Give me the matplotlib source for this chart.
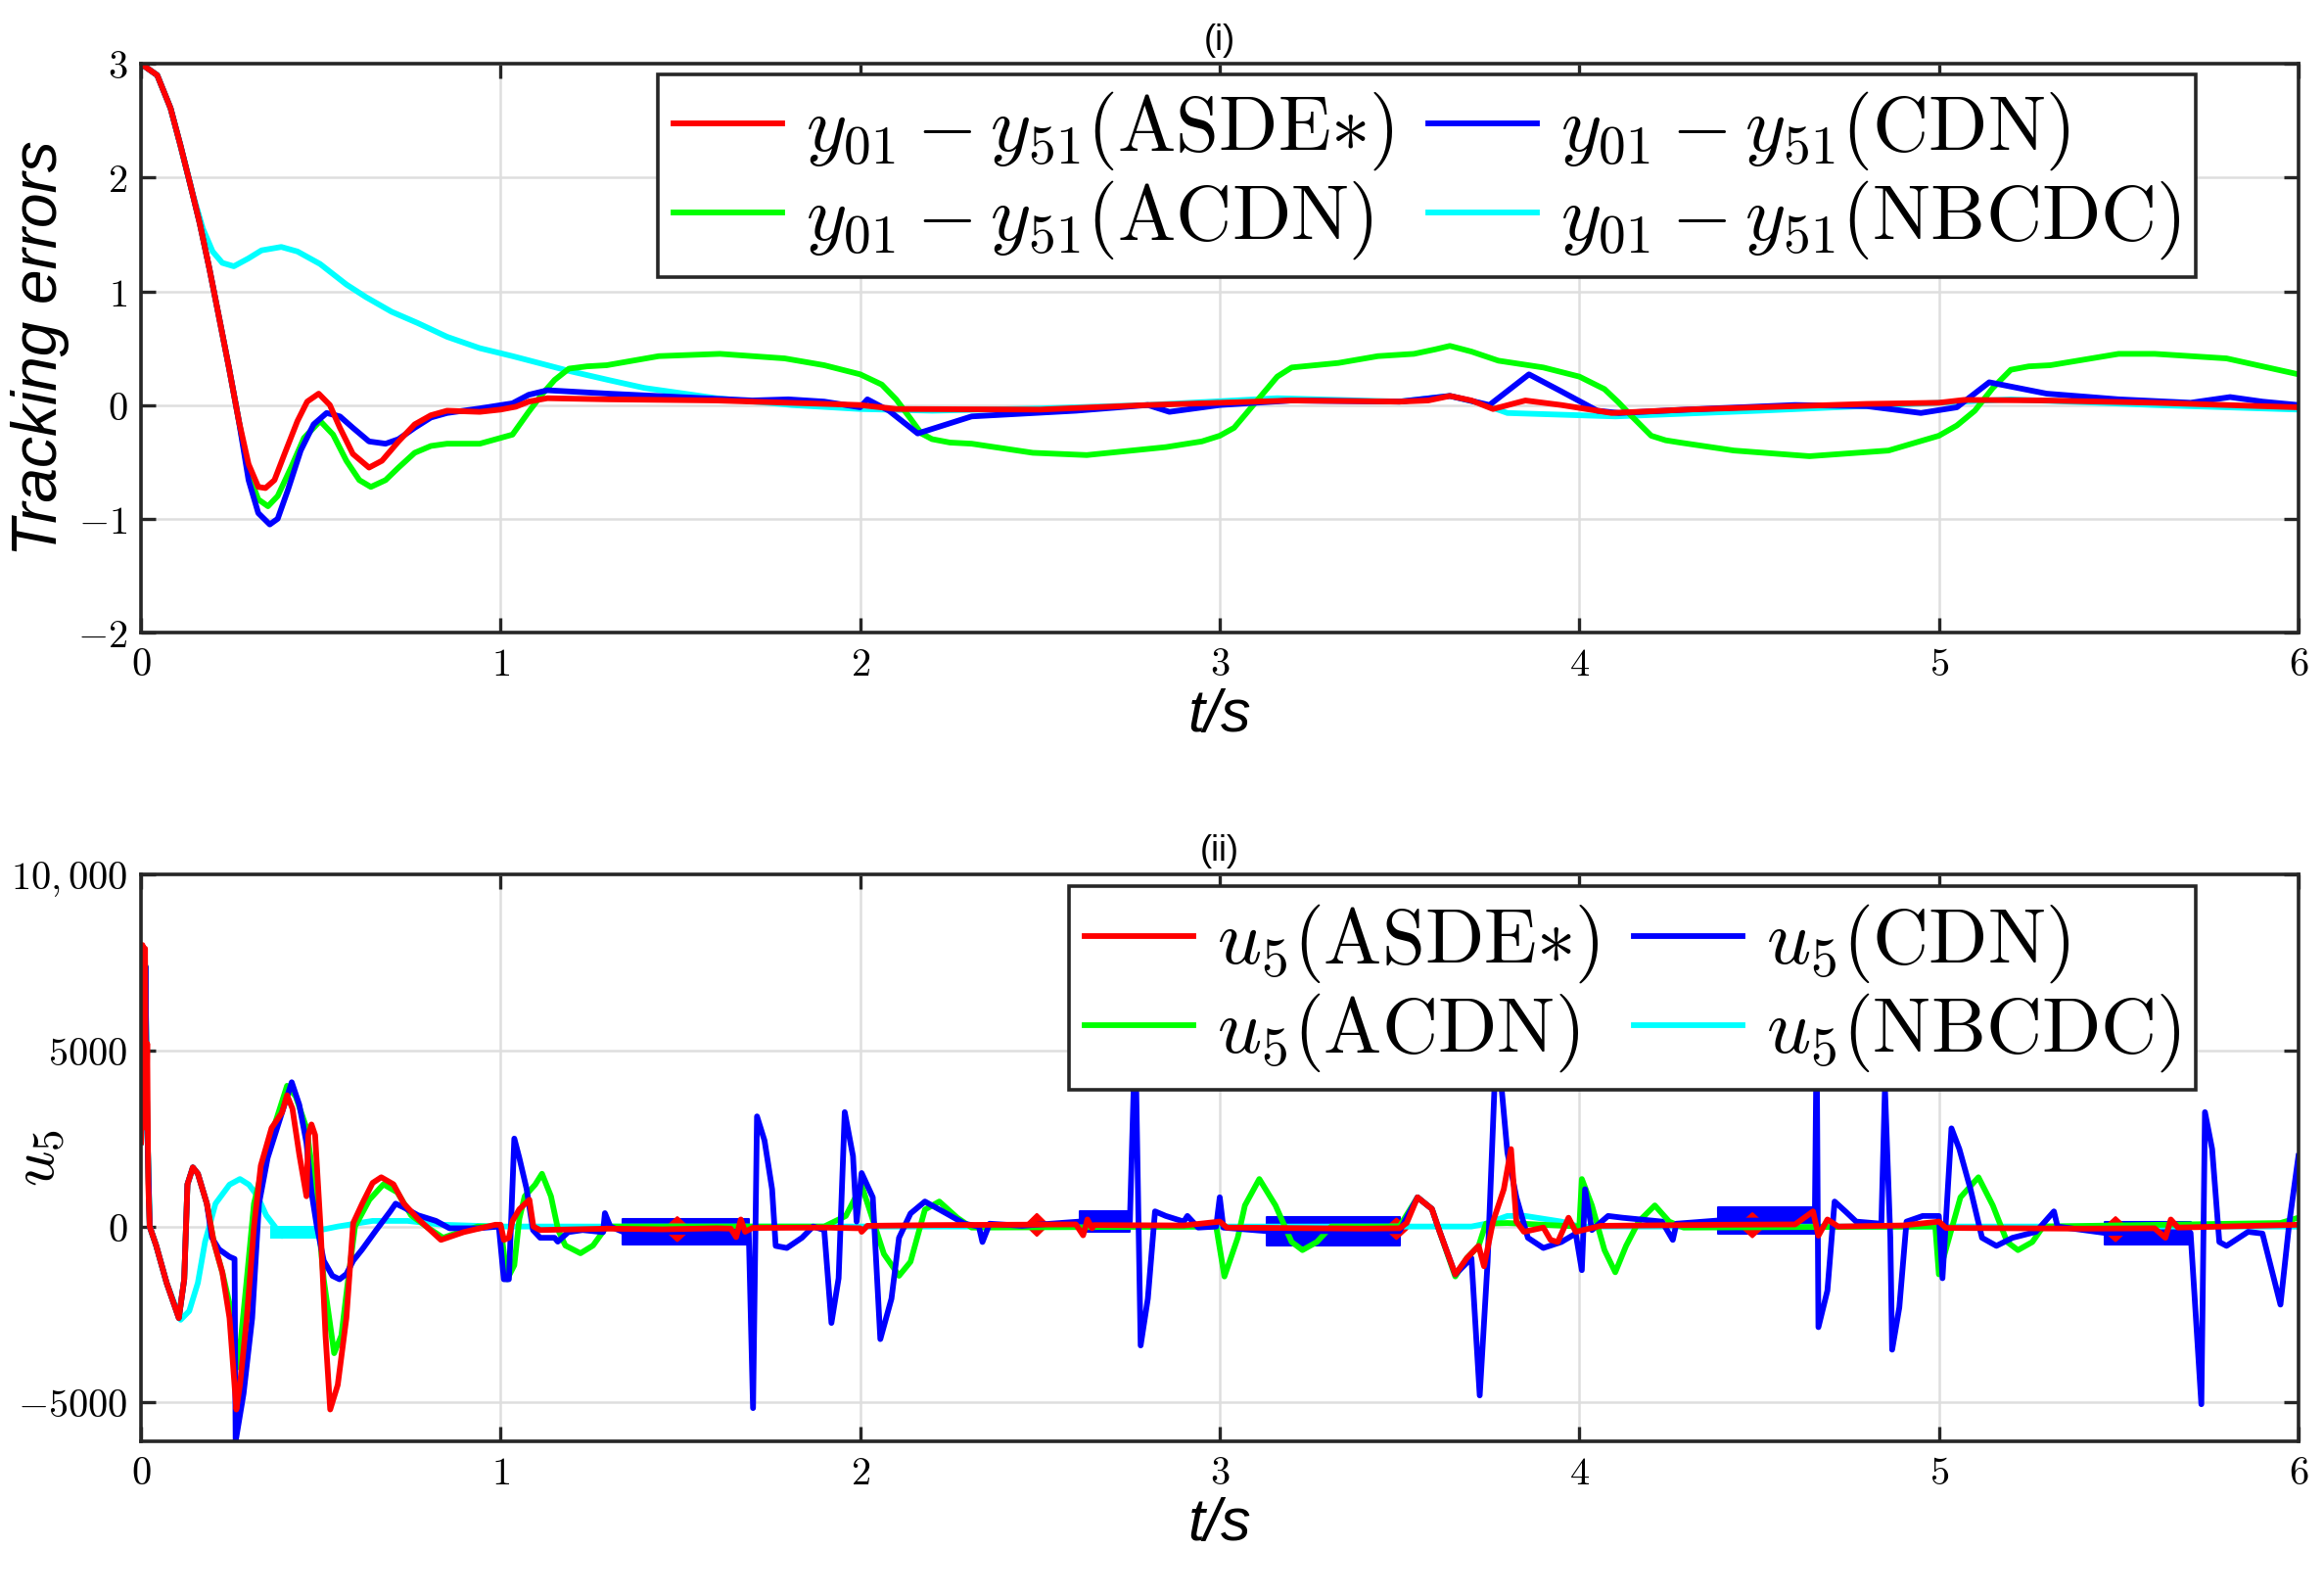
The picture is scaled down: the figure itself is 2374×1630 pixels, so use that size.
import numpy as np
import matplotlib
matplotlib.use('Agg')
import matplotlib.pyplot as plt

plt.rcParams['mathtext.fontset'] = 'cm'
plt.rcParams['font.family'] = ['Liberation Sans', 'DejaVu Sans']

# ---------------- (i) tracking errors ----------------
t_asde = [0, 0.045, 0.082, 0.109, 0.136, 0.163, 0.19, 0.217, 0.245, 0.272, 0.299, 0.326, 0.346, 0.371,
          0.399, 0.435, 0.462, 0.494, 0.525, 0.553, 0.589, 0.634, 0.67, 0.716, 0.761, 0.806, 0.851, 0.942,
          1.0, 1.042, 1.078, 1.13, 1.3, 1.6, 2.0, 2.1, 2.5, 2.8, 3.0, 3.2, 3.5, 3.58, 3.64, 3.7, 3.76,
          3.85, 3.95, 4.09, 4.3, 4.5, 4.8, 5.0, 5.07, 5.3, 5.6, 6.0]
e_asde = [3.0, 2.9, 2.61, 2.29, 1.95, 1.6, 1.2, 0.77, 0.32, -0.14, -0.52, -0.72, -0.73, -0.66,
          -0.43, -0.14, 0.03, 0.1, 0.0, -0.2, -0.43, -0.55, -0.49, -0.32, -0.17, -0.09, -0.05, -0.06,
          -0.04, -0.015, 0.03, 0.06, 0.05, 0.04, 0.0, -0.035, -0.04, 0.0, 0.02, 0.04, 0.03, 0.04, 0.08,
          0.04, -0.035, 0.04, 0.0, -0.07, -0.04, -0.02, 0.01, 0.02, 0.045, 0.04, 0.02, -0.02]

t_cdn = [0, 0.045, 0.082, 0.109, 0.136, 0.163, 0.19, 0.217, 0.245, 0.272, 0.299, 0.326, 0.358, 0.38,
         0.408, 0.444, 0.48, 0.516, 0.553, 0.589, 0.634, 0.68, 0.716, 0.761, 0.806, 0.851, 0.942, 1.033,
         1.078, 1.13, 1.3, 1.5, 1.7, 1.8, 1.9, 2.0, 2.02, 2.08, 2.16, 2.23, 2.31, 2.6, 2.8, 2.86, 2.93,
         3.0, 3.2, 3.5, 3.64, 3.75, 3.86, 3.95, 4.05, 4.11, 4.3, 4.6, 4.8, 4.95, 5.05, 5.14, 5.3, 5.5,
         5.7, 5.81, 5.9, 6.0]
e_cdn = [3.0, 2.9, 2.61, 2.29, 1.95, 1.6, 1.2, 0.77, 0.32, -0.14, -0.66, -0.95, -1.05, -1.0,
         -0.75, -0.4, -0.17, -0.07, -0.1, -0.2, -0.32, -0.34, -0.3, -0.2, -0.11, -0.07, -0.03, 0.015,
         0.09, 0.13, 0.1, 0.07, 0.04, 0.05, 0.03, -0.02, 0.05, -0.05, -0.25, -0.18, -0.1, -0.05, 0.0,
         -0.06, -0.03, 0.0, 0.04, 0.03, 0.08, 0.0, 0.27, 0.12, -0.05, -0.07, -0.04, 0.0, -0.01, -0.07,
         -0.02, 0.2, 0.1, 0.05, 0.02, 0.07, 0.03, 0.0]

t_acdn = [0, 0.045, 0.082, 0.109, 0.136, 0.163, 0.19, 0.217, 0.245, 0.272, 0.299, 0.326, 0.353, 0.38,
          0.417, 0.453, 0.498, 0.534, 0.571, 0.607, 0.639, 0.68, 0.716, 0.761, 0.806, 0.851, 0.942, 1.033,
          1.078, 1.114, 1.15, 1.19, 1.24, 1.295, 1.44, 1.61, 1.79, 1.9, 2.0, 2.06, 2.1, 2.14, 2.17, 2.2,
          2.25, 2.31, 2.48, 2.63, 2.85, 2.95, 3.0, 3.04, 3.08, 3.12, 3.16, 3.2, 3.33, 3.44, 3.54, 3.6,
          3.64, 3.7, 3.775, 3.9, 4.0, 4.07, 4.11, 4.14, 4.2, 4.24, 4.28, 4.43, 4.64, 4.86, 5.0, 5.05,
          5.1, 5.15, 5.2, 5.25, 5.31, 5.5, 5.6, 5.8, 6.0]
e_acdn = [3.0, 2.9, 2.61, 2.29, 1.95, 1.6, 1.2, 0.77, 0.32, -0.14, -0.6, -0.83, -0.89, -0.8,
          -0.55, -0.29, -0.14, -0.26, -0.49, -0.66, -0.72, -0.66, -0.55, -0.42, -0.36, -0.34, -0.34, -0.26,
          -0.06, 0.09, 0.22, 0.32, 0.34, 0.35, 0.43, 0.45, 0.41, 0.35, 0.27, 0.18, 0.05, -0.12, -0.25, -0.3,
          -0.33, -0.34, -0.42, -0.44, -0.37, -0.32, -0.27, -0.2, -0.05, 0.1, 0.25, 0.33, 0.37, 0.43, 0.45,
          0.49, 0.52, 0.47, 0.39, 0.33, 0.25, 0.14, 0.02, -0.08, -0.27, -0.31, -0.33, -0.4, -0.45, -0.4,
          -0.27, -0.18, -0.05, 0.15, 0.31, 0.34, 0.35, 0.45, 0.45, 0.41, 0.27]

t_nbcdc = [0, 0.045, 0.082, 0.109, 0.136, 0.145, 0.172, 0.199, 0.226, 0.258, 0.299, 0.335, 0.39, 0.435,
           0.498, 0.571, 0.625, 0.697, 0.77, 0.851, 0.942, 1.033, 1.13, 1.19, 1.3, 1.4, 1.6, 1.81, 2.0,
           2.2, 2.5, 2.8, 3.16, 3.5, 3.64, 3.72, 3.8, 4.1, 4.5, 5.0, 5.2, 5.6, 6.0]
e_nbcdc = [3.0, 2.9, 2.61, 2.29, 1.95, 1.84, 1.55, 1.35, 1.25, 1.22, 1.29, 1.36, 1.39, 1.35,
           1.24, 1.06, 0.95, 0.82, 0.72, 0.6, 0.5, 0.43, 0.35, 0.3, 0.22, 0.15, 0.06, 0.0, -0.035,
           -0.05, -0.03, 0.0, 0.06, 0.03, 0.08, 0.02, -0.07, -0.1, -0.05, 0.02, 0.05, 0.0, -0.04]

# ---------------- (ii) control input u5 ----------------
t_u_asde = [0, 0.004, 0.008, 0.011, 0.014, 0.017, 0.02, 0.024, 0.042, 0.071, 0.105, 0.12, 0.129, 0.144,
            0.158, 0.183, 0.202, 0.226, 0.246, 0.265, 0.275, 0.294, 0.314, 0.333, 0.363, 0.392, 0.406,
            0.421, 0.44, 0.46, 0.465, 0.474, 0.484, 0.499, 0.513, 0.526, 0.547, 0.571, 0.59, 0.615, 0.644,
            0.668, 0.702, 0.731, 0.77, 0.834, 0.897, 0.985, 1.0, 1.009, 1.023, 1.033, 1.052, 1.08, 1.091,
            1.11, 1.3, 1.45, 1.6, 1.64, 1.655, 1.668, 1.68, 1.7, 1.9, 2.0, 2.004, 2.02, 2.2, 2.4, 2.6, 2.62,
            2.632, 2.645, 2.65, 2.9, 3.0, 3.02, 3.4, 3.5, 3.52, 3.55, 3.59, 3.61, 3.655, 3.687, 3.72, 3.735,
            3.76, 3.79, 3.81, 3.825, 3.846, 3.9, 3.92, 3.94, 3.97, 3.99, 4.06, 4.4, 4.6, 4.65, 4.665, 4.69,
            4.72, 4.9, 5.0, 5.02, 5.4, 5.6, 5.63, 5.645, 5.665, 6.0]
u_asde = [2400, 8000, 3000, 7900, 2800, 5200, 1200, 0, -540, -1600, -2600, -1500, 1200, 1680,
          1500, 650, -430, -1300, -2600, -5200, -4500, -2600, 0, 1730, 2800, 3240, 3730,
          3350, 2050, 860, 2600, 2900, 2600, 0, -3100, -5200, -4500, -2600, 100, 650, 1240,
          1400, 1200, 650, 220, -380, -160, 50, 50, -380, -320, 160, 490, 760, 0,
          -100, -60, -80, -50, -60, -300, 200, -150, -40, -30, -50, -150, 20, 40, 50, 60, -250,
          200, -50, 40, 30, 140, -30, -60, -50, 100, 830, 500, -100, -1360, -900, -550, -1130,
          140, 1060, 2200, 140, -150, -30, -380, -440, 250, -150, 20, 50, 60, 430, -260, 200,
          0, 30, 140, -40, -60, -50, -320, 200, -30, 50]

t_u_cdn = [0, 0.004, 0.008, 0.012, 0.017, 0.024, 0.042, 0.071, 0.105, 0.12, 0.129, 0.144, 0.158, 0.183,
           0.197, 0.217, 0.246, 0.26, 0.263, 0.285, 0.309, 0.328, 0.352, 0.392, 0.419, 0.44, 0.46, 0.474,
           0.489, 0.508, 0.532, 0.552, 0.571, 0.59, 0.615, 0.654, 0.693, 0.708, 0.731, 0.77, 0.82, 0.858,
           0.936, 0.995, 1.009, 1.023, 1.038, 1.052, 1.072, 1.09, 1.11, 1.15, 1.159, 1.188, 1.228, 1.285,
           1.29, 1.305, 1.34, 1.69, 1.702, 1.713, 1.734, 1.755, 1.765, 1.796, 1.838, 1.869, 1.9, 1.92,
           1.94, 1.957, 1.98, 1.99, 2.004, 2.035, 2.056, 2.087, 2.108, 2.14, 2.18, 2.24, 2.29, 2.33, 2.34,
           2.36, 2.45, 2.61, 2.75, 2.765, 2.78, 2.8, 2.82, 2.85, 2.9, 2.91, 2.94, 2.99, 3.0, 3.01, 3.13,
           3.5, 3.55, 3.59, 3.61, 3.655, 3.7, 3.723, 3.745, 3.77, 3.8, 3.825, 3.857, 3.9, 3.95, 3.99,
           4.007, 4.016, 4.035, 4.08, 4.12, 4.23, 4.26, 4.27, 4.385, 4.655, 4.66, 4.665, 4.69, 4.71, 4.74,
           4.77, 4.84, 4.85, 4.865, 4.87, 4.89, 4.91, 4.955, 5.0, 5.01, 5.035, 5.057, 5.088, 5.12, 5.16,
           5.205, 5.27, 5.32, 5.33, 5.46, 5.70, 5.73, 5.74, 5.76, 5.78, 5.8, 5.86, 5.9, 5.95, 5.975, 6.0]
u_cdn = [2400, 7500, 3000, 7400, 3000, 0, -540, -1600, -2600, -1500, 1200, 1680, 1500, 650,
         -320, -650, -860, -920, -6100, -4750, -2600, 650, 1950, 3240, 4100, 3460, 2380, 970,
         0, -970, -1400, -1500, -1350, -970, -650, -100, 430, 650, 540, 320, 160, -50,
         -50, 0, -1500, -1500, 2500, 1950, 1080, -100, -320, -320, -430, -160, -100, -160,
         380, 0, -150, -150, -5160, 3130, 2440, 1060, -550, -610, -320, 0, -100, -2740,
         -1470, 3250, 2000, 140, 1520, 830, -3200, -2050, -320, 370, 710, 370, 80, 0, -440,
         80, 20, 140, 140, 5500, -3380, -2050, 430, 300, 140, 300, -30, 0, 830, -30, -130,
         -130, 830, 500, -100, -1360, -900, -4800, -1000, 5500, 2100, 830, -320, -610, -440, -200,
         -1240, 1060, -100, 300, 250, 140, -380, 80, 170, 170, 5500, -2860, -1820, 710, 430,
         140, 80, 3940, -320, -3500, -2300, 140, 300, 300, -1470, 2790, 2200, 1060, -320, -550,
         -320, -150, 430, 0, -180, -180, -5050, 3250, 2200, -440, -550, -150, -200, -2220, 140, 2000]

t_u_acdn = [0, 0.004, 0.008, 0.012, 0.017, 0.024, 0.042, 0.071, 0.105, 0.12, 0.129, 0.144, 0.158, 0.183,
            0.202, 0.226, 0.255, 0.27, 0.294, 0.314, 0.353, 0.406, 0.43, 0.46, 0.489, 0.508, 0.537, 0.557,
            0.576, 0.595, 0.635, 0.674, 0.713, 0.751, 0.8, 0.84, 0.868, 0.936, 1.0, 1.018, 1.038, 1.052,
            1.067, 1.096, 1.115, 1.14, 1.16, 1.18, 1.222, 1.257, 1.295, 1.9, 1.96, 2.004, 2.066, 2.108,
            2.14, 2.18, 2.22, 2.27, 2.31, 2.99, 3.013, 3.05, 3.07, 3.11, 3.155, 3.2, 3.23, 3.27, 3.31, 3.5,
            3.55, 3.59, 3.61, 3.655, 3.687, 3.72, 3.74, 3.8, 4.0, 4.007, 4.035, 4.07, 4.1, 4.13, 4.165,
            4.21, 4.25, 4.29, 4.99, 5.0, 5.06, 5.11, 5.15, 5.19, 5.22, 5.26, 5.29, 5.95, 6.0]
u_acdn = [2400, 7500, 3000, 7400, 3000, 0, -540, -1600, -2600, -1500, 1200, 1680, 1500, 650,
          -430, -1300, -2600, -4000, -1500, 650, 2300, 4000, 3700, 2800, 650, -1500, -3600, -3100,
          -1500, 0, 760, 1200, 970, 320, -50, -320, -220, 0, 0, -1500, -1100, 220,
          860, 1190, 1500, 860, -100, -540, -760, -540, 0, 0, 300, 1170, -780, -1400,
          -1000, 480, 710, 250, -30, 0, -1420, -320, 600, 1350, 600, -440, -670, -440, 0, 0,
          830, 500, -100, -1420, -900, -550, 80, 100, 0, 1350, 600, -670, -1300, -550, 140,
          600, 140, -30, 0, -1360, 830, 1400, 600, -440, -670, -440, 0, 100, 250]

t_u_nbcdc = [0, 0.004, 0.008, 0.012, 0.017, 0.024, 0.042, 0.071, 0.11, 0.134, 0.158, 0.178, 0.207, 0.246,
             0.275, 0.3, 0.324, 0.348, 0.372, 0.391, 0.42, 0.469, 0.547, 0.644, 0.741, 0.84, 1.0, 2.0,
             3.7, 3.74, 3.8, 3.85, 3.95, 4.0, 6.0]
u_nbcdc = [2400, 7500, 3000, 7400, 3000, 0, -540, -1600, -2650, -2400, -1600, -430, 650, 1190,
           1350, 1190, 860, 320, 0, -270, -220, -160, 0, 160, 160, 50, 0, 0,
           0, 80, 300, 300, 140, 0, 0]

# high-frequency chatter regions (start, end, lower, upper)
cdn_band_t0 = [1.34, 2.61, 3.13, 4.385, 5.46]
cdn_band_t1 = [1.69, 2.75, 3.50, 4.655, 5.70]
cdn_band_lo = [-500, -150, -530, -200, -500]
cdn_band_hi = [200, 430, 280, 540, 140]

nbcdc_band_t0 = [0.36]
nbcdc_band_t1 = [0.50]
nbcdc_band_lo = [-350]
nbcdc_band_hi = [20]

# short red chatter bursts (centre, half width, base, amplitude)
asde_burst_t = [1.49, 2.49, 3.49, 4.48, 5.49]
asde_burst_w = [0.035, 0.03, 0.03, 0.035, 0.035]
asde_burst_base = [-60, 60, -50, 50, -60]
asde_burst_amp = [330, 300, 280, 330, 330]

RED, BLUE, GREEN, CYAN = '#ff0000', '#0000ff', '#00ff00', '#00ffff'
LW = 4.2
AX_COL = '#262626'

fig = plt.figure(figsize=(23.74, 16.3), dpi=100)
ax1 = fig.add_axes([0.0607, 0.6037, 0.9283, 0.3563])
ax2 = fig.add_axes([0.0607, 0.097, 0.9283, 0.355])


def style_axes(ax):
    ax.grid(True, color='#dedede', linewidth=1.8)
    ax.set_axisbelow(True)
    for s in ax.spines.values():
        s.set_color(AX_COL)
        s.set_linewidth(2.6)
    ax.tick_params(direction='in', top=True, right=True, length=11, width=2.4,
                   color=AX_COL, labelsize=29, pad=10)
    ax.set_xlim(0, 6)
    ax.set_xticks(range(7))
    ax.set_xticklabels([f'${v}$' for v in range(7)])


# ---- panel (i)
ax1.plot(t_nbcdc, e_nbcdc, color=CYAN, lw=LW, solid_joinstyle='round')
ax1.plot(t_acdn, e_acdn, color=GREEN, lw=LW, solid_joinstyle='round')
ax1.plot(t_cdn, e_cdn, color=BLUE, lw=LW, solid_joinstyle='round')
ax1.plot(t_asde, e_asde, color=RED, lw=LW, solid_joinstyle='round')
style_axes(ax1)
ax1.set_ylim(-2, 3)
ax1.set_yticks(range(-2, 4))
ax1.set_yticklabels([f'${v}$' for v in range(-2, 4)])
ax1.set_title('(i)', fontsize=26, pad=10)
ax1.set_xlabel('t/s', fontsize=44, style='italic', labelpad=4)
ax1.set_ylabel('Tracking errors', fontsize=46, style='italic')
ax1.yaxis.set_label_coords(-0.033, 0.5)

h1 = [plt.Line2D([], [], color=c, lw=LW) for c in (RED, GREEN, BLUE, CYAN)]
lab1 = [r'$y_{01}-y_{51}(\mathrm{ASDE}{\ast})$', r'$y_{01}-y_{51}(\mathrm{ACDN})$',
        r'$y_{01}-y_{51}(\mathrm{CDN})$', r'$y_{01}-y_{51}(\mathrm{NBCDC})$']
leg1 = ax1.legend(h1, lab1, ncol=2, loc='upper right', bbox_to_anchor=(0.9526, 0.982),
                  fontsize=57, fancybox=False, framealpha=1, edgecolor=AX_COL,
                  handlelength=1.4, handletextpad=0.3, columnspacing=0.45,
                  borderpad=0.2, labelspacing=0.08, borderaxespad=0)
leg1.get_frame().set_linewidth(2.6)

# ---- panel (ii)
for a, b, lo, hi in zip(nbcdc_band_t0, nbcdc_band_t1, nbcdc_band_lo, nbcdc_band_hi):
    ax2.fill_between([a, b], [lo, lo], [hi, hi], color=CYAN, lw=0)
ax2.plot(t_u_nbcdc, u_nbcdc, color=CYAN, lw=LW, solid_joinstyle='round')
ax2.plot(t_u_acdn, u_acdn, color=GREEN, lw=LW, solid_joinstyle='round')
for a, b, lo, hi in zip(cdn_band_t0, cdn_band_t1, cdn_band_lo, cdn_band_hi):
    ax2.fill_between([a, b], [lo, lo], [hi, hi], color=BLUE, lw=1.5, edgecolor=BLUE)
ax2.plot(t_u_cdn, u_cdn, color=BLUE, lw=LW, solid_joinstyle='round')
ax2.plot(t_u_asde, u_asde, color=RED, lw=LW, solid_joinstyle='round')
for c, w, base, amp in zip(asde_burst_t, asde_burst_w, asde_burst_base, asde_burst_amp):
    ax2.fill_between([c - w, c, c + w], [base, base - amp, base], [base, base + amp, base],
                     color=RED, lw=2, edgecolor=RED)
style_axes(ax2)
ax2.set_ylim(-6100, 10000)
ax2.set_yticks([-5000, 0, 5000, 10000])
ax2.set_yticklabels([r'$-5000$', r'$0$', r'$5000$', r'$10,000$'])
ax2.set_title('(ii)', fontsize=26, pad=10)
ax2.set_xlabel('t/s', fontsize=44, style='italic', labelpad=4)
ax2.set_ylabel(r'$u_5$', fontsize=46)
ax2.yaxis.set_label_coords(-0.034, 0.5)

lab2 = [r'$u_5(\mathrm{ASDE}{\ast})$', r'$u_5(\mathrm{ACDN})$',
        r'$u_5(\mathrm{CDN})$', r'$u_5(\mathrm{NBCDC})$']
leg2 = ax2.legend(h1, lab2, ncol=2, loc='upper right', bbox_to_anchor=(0.9526, 0.979),
                  fontsize=57, fancybox=False, framealpha=1, edgecolor=AX_COL,
                  handlelength=1.4, handletextpad=0.3, columnspacing=0.45,
                  borderpad=0.2, labelspacing=0.08, borderaxespad=0)
leg2.get_frame().set_linewidth(2.6)

fig.savefig('out.png', dpi=100)
